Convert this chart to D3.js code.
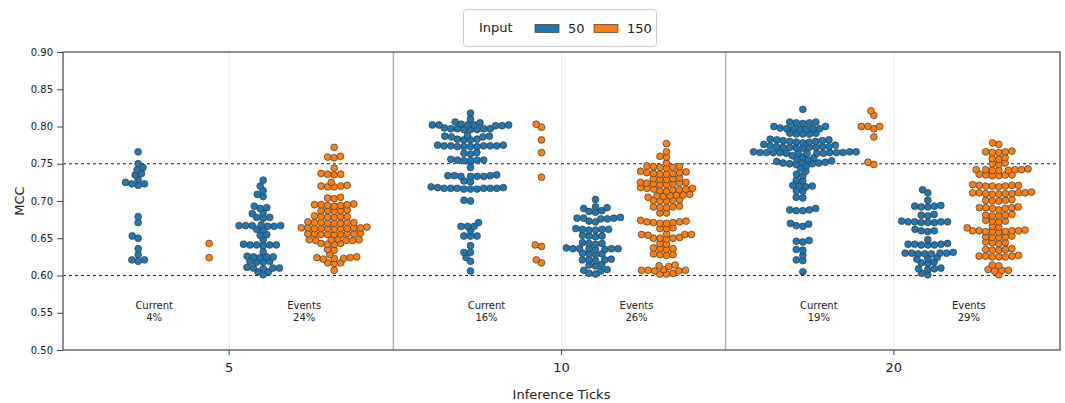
<!DOCTYPE html>
<html>
<head>
<meta charset="utf-8">
<script src="https://cdn.jsdelivr.net/npm/d3@7"></script>
<style>
  body { margin: 0; background: #fff; }
  text { font-family: "DejaVu Sans", Verdana, sans-serif; fill: #222; }
</style>
</head>
<body>
<svg id="chart" width="1065" height="403"></svg>
<script>
// ---- data ----
var groups = ["5", "10", "20"];
var kinds = ["Current", "Events"];
var inputs = ["50", "150"];
var colors = ["#1f77b4", "#ff7f0e"];
var yTicks = [0.50, 0.55, 0.60, 0.65, 0.70, 0.75, 0.80, 0.85, 0.90];
var refLines = [0.75, 0.60];
var pctCurrent = ["4%", "16%", "19%"];
var pctEvents = ["24%", "26%", "29%"];

var cur5_50 = [0.766,0.750,0.745,0.742,0.737,0.735,0.729,0.725,0.723,0.723,0.721,0.679,0.671,0.653,0.650,0.636,0.628,0.621,0.621,0.619];
var cur5_150 = [0.643,0.624];
var ev5_50 = [0.728,0.720,0.714,0.709,0.706,0.693,0.691,0.690,0.684,0.683,0.678,0.678,0.677,0.668,0.667,0.667,0.667,0.667,0.666,0.666,
  0.662,0.661,0.655,0.654,0.648,0.642,0.641,0.641,0.641,0.641,0.640,0.632,0.626,0.625,0.625,0.625,0.624,0.619,0.619,0.618,0.618,
  0.611,0.610,0.610,0.610,0.609,0.605,0.605,0.601];
var ev5_150 = [0.772,0.760,0.759,0.758,0.744,0.737,0.736,0.736,0.735,0.725,0.721,0.720,0.720,0.719,0.719,0.705,0.704,0.703,
  0.696,0.695,0.695,0.695,0.694,0.694,0.693,0.688,0.687,0.687,0.687,0.686,0.680,0.679,0.679,0.679,0.678,0.678,
  0.672,0.671,0.671,0.671,0.671,0.670,0.670,0.670,0.665,0.664,0.664,0.664,0.664,0.663,0.663,0.663,0.663,0.663,0.662,
  0.657,0.656,0.656,0.656,0.656,0.655,0.655,0.655,0.655,0.649,0.648,0.648,0.648,0.647,0.647,0.647,0.643,0.643,0.642,0.642,
  0.635,0.634,0.628,0.625,0.624,0.624,0.623,0.623,0.622,0.617,0.617,0.616,0.607];
var cur10_50 = [0.818,0.810,0.806,0.805,0.803,0.802,0.802,0.802,0.802,0.802,0.801,0.801,0.798,0.797,0.797,0.797,0.797,0.796,0.796,0.796,
  0.788,0.787,0.787,0.786,0.786,0.783,0.783,0.782,0.782,0.775,0.775,0.774,0.774,0.774,0.774,0.774,0.773,0.773,0.773,0.773,
  0.765,0.764,0.763,0.756,0.755,0.755,0.755,0.754,0.754,0.745,0.735,0.734,0.734,0.734,0.733,0.733,0.733,0.733,0.727,0.726,
  0.719,0.718,0.718,0.717,0.717,0.717,0.717,0.717,0.717,0.716,0.716,0.716,0.701,0.700,
  0.671,0.666,0.666,0.666,0.660,0.653,0.653,0.653,0.640,0.631,0.631,0.624,0.619,0.606];
var cur10_150 = [0.803,0.799,0.782,0.765,0.732,0.641,0.639,0.621,0.617];
var ev10_50 = [0.702,0.692,0.691,0.690,0.687,0.686,0.685,0.678,0.677,0.677,0.677,0.676,0.676,0.673,0.672,
  0.663,0.662,0.662,0.662,0.661,0.661,0.654,0.653,0.653,0.652,0.644,0.643,0.643,0.642,
  0.637,0.636,0.636,0.636,0.636,0.636,0.635,0.635,0.630,0.629,0.629,0.628,0.622,0.621,0.621,0.621,0.620,
  0.615,0.614,0.613,0.608,0.607,0.606,0.603,0.602];
var ev10_150 = [0.777,0.766,0.760,0.759,0.751,0.747,0.746,0.746,0.745,0.745,0.744,
  0.740,0.739,0.738,0.738,0.737,0.737,0.736,0.736,0.731,0.730,0.730,0.729,0.729,
  0.725,0.725,0.724,0.724,0.723,0.723,0.722,0.722,0.718,0.717,0.717,0.716,0.716,0.715,0.715,0.714,0.713,
  0.709,0.708,0.708,0.707,0.707,0.706,0.705,0.702,0.701,0.701,0.700,0.700,0.693,0.692,0.692,0.691,0.691,0.684,0.684,
  0.674,0.673,0.672,0.672,0.671,0.671,0.670,0.670,0.664,0.663,0.663,0.656,0.655,0.655,0.655,0.654,
  0.651,0.650,0.650,0.650,0.649,0.643,0.642,0.637,0.636,0.636,0.635,0.629,0.628,0.628,0.627,
  0.614,0.613,0.612,0.608,0.607,0.607,0.607,0.606,0.606,0.603,0.602,0.602];
var cur20_50 = [0.823,0.806,0.806,0.805,0.805,0.804,0.800,0.800,0.798,0.797,0.797,0.797,0.797,0.796,0.796,
  0.791,0.791,0.790,0.790,0.790,0.783,0.782,0.782,0.781,0.781,0.780,0.780,0.779,0.779,0.778,0.776,0.775,
  0.774,0.773,0.773,0.773,0.772,0.772,0.772,0.772,0.771,0.771,
  0.766,0.766,0.766,0.765,0.765,0.765,0.765,0.765,0.765,0.765,0.764,0.764,0.764,0.764,0.764,
  0.761,0.759,0.758,0.756,0.755,0.754,0.753,0.752,0.752,0.751,0.751,0.750,0.750,0.749,
  0.747,0.744,0.740,0.736,0.734,0.728,0.727,0.721,0.720,0.720,0.719,0.714,0.713,0.705,0.704,
  0.690,0.688,0.688,0.687,0.687,0.670,0.669,0.667,0.666,0.647,0.646,0.645,0.635,0.634,0.627,0.621,0.620,0.605];
var cur20_150 = [0.821,0.815,0.800,0.800,0.800,0.797,0.786,0.752,0.749];
var ev20_50 = [0.715,0.711,0.701,0.694,0.693,0.693,0.692,0.692,0.682,0.681,0.680,
  0.673,0.672,0.672,0.672,0.672,0.671,0.671,0.671,0.662,0.660,0.660,0.659,0.648,
  0.643,0.642,0.642,0.642,0.641,0.641,0.641,0.631,0.630,0.630,0.630,0.630,0.629,0.629,0.629,
  0.624,0.623,0.622,0.618,0.617,0.616,0.610,0.609,0.609,0.608,0.603,0.601];
var ev20_150 = [0.778,0.776,0.767,0.766,0.766,0.765,0.765,0.758,0.757,0.756,0.751,0.750,0.749,
  0.743,0.742,0.742,0.742,0.742,0.741,0.741,0.741,0.736,0.735,0.735,0.735,0.734,0.734,
  0.722,0.721,0.721,0.721,0.720,0.720,0.720,0.719,0.712,0.711,0.711,0.711,0.711,0.710,0.710,0.710,0.709,0.709,
  0.702,0.701,0.701,0.700,0.700,0.692,0.691,0.691,0.691,0.690,0.690,0.688,0.682,0.681,0.681,0.680,0.680,
  0.674,0.673,0.673,0.672,0.666,0.665,0.664,0.661,0.660,0.660,0.660,0.660,0.659,0.659,0.659,0.658,
  0.653,0.652,0.652,0.651,0.651,0.645,0.644,0.644,0.643,0.636,0.635,0.635,0.634,0.634,
  0.627,0.626,0.626,0.626,0.625,0.625,0.625,0.614,0.613,0.608,0.607,0.607,0.606,0.601];

// group -> kind -> input
var CLUSTERS = [
  {g: "5",  k: "Current", s: "50", v: cur5_50},  {g: "5",  k: "Current", s: "150", v: cur5_150},
  {g: "5",  k: "Events",  s: "50", v: ev5_50},   {g: "5",  k: "Events",  s: "150", v: ev5_150},
  {g: "10", k: "Current", s: "50", v: cur10_50}, {g: "10", k: "Current", s: "150", v: cur10_150},
  {g: "10", k: "Events",  s: "50", v: ev10_50},  {g: "10", k: "Events",  s: "150", v: ev10_150},
  {g: "20", k: "Current", s: "50", v: cur20_50}, {g: "20", k: "Current", s: "150", v: cur20_150},
  {g: "20", k: "Events",  s: "50", v: ev20_50},  {g: "20", k: "Events",  s: "150", v: ev20_150}
];

var PLOT_L = 63, PLOT_R = 1060, PLOT_T = 52, PLOT_B = 350;
var R = 3.4, GAP_X = 6.6, GAP_Y = 5.0;   // swarm spacing: row step and vertical tolerance

var SVG = d3.select("svg#chart");

var x = d3.scaleBand().domain(groups).range([PLOT_L, PLOT_R]).padding(0);
var kindX = d3.scalePoint().domain(kinds).range([-55, 70]);
var labelX = d3.scalePoint().domain(kinds).range([-75, 75]);
var inputX = d3.scalePoint().domain(inputs).range([-36, 35]);
var color = d3.scaleOrdinal().domain(inputs).range(colors);
var y = d3.scaleLinear().domain([0.5, 0.9]).range([PLOT_B, PLOT_T]);

function center(g) { return x(g) + x.bandwidth() / 2; }

// light gridlines at group centers
SVG.append("g").selectAll("line").data(groups).join("line")
   .attr("x1", center).attr("x2", center)
   .attr("y1", PLOT_T).attr("y2", PLOT_B)
   .attr("stroke", "#e8e8e8").attr("stroke-width", 1);

// group separators
SVG.append("g").selectAll("line").data(groups.slice(1)).join("line")
   .attr("x1", function(d){ return x(d) - 2; }).attr("x2", function(d){ return x(d) - 2; })
   .attr("y1", PLOT_T).attr("y2", PLOT_B)
   .attr("stroke", "#b4b4b4").attr("stroke-width", 1.5);

// reference lines
SVG.append("g").selectAll("line").data(refLines).join("line")
   .attr("x1", PLOT_L).attr("x2", PLOT_R)
   .attr("y1", y).attr("y2", y)
   .attr("stroke", "#222").attr("stroke-width", 1)
   .attr("stroke-dasharray", "3,3");

// category labels
var labs = [];
groups.forEach(function(g, i) {
  labs.push({g: g, k: "Current", p: pctCurrent[i]});
  labs.push({g: g, k: "Events", p: pctEvents[i]});
});
var lab = SVG.append("g").selectAll("text").data(labs).join("text")
   .attr("text-anchor", "middle")
   .attr("font-size", "10px")
   .attr("x", function(d){ return center(d.g) + labelX(d.k); })
   .attr("y", 309);
lab.append("tspan").text(function(d){ return d.k; });
lab.append("tspan")
   .attr("x", function(d){ return center(d.g) + labelX(d.k); })
   .attr("dy", "1.2em")
   .text(function(d){ return d.p; });

// beeswarm placement, closest free spot to the centre line
function clash(q, px, py) {
  var a = (q.x - px) / GAP_X, b = (q.y - py) / GAP_Y;
  return a * a + b * b < 0.999;
}
function swarm(values, cx) {
  var pts = values.map(function(v){ return {v: v, y: y(v)}; })
                  .sort(function(a, b){ return b.y - a.y; });
  var placed = [];
  pts.forEach(function(p) {
    var cands = [cx];
    placed.forEach(function(q) {
      var b = (q.y - p.y) / GAP_Y;
      if (Math.abs(b) < 1) {
        var dx = GAP_X * Math.sqrt(1 - b * b);
        cands.push(q.x - dx, q.x + dx);
      }
    });
    cands.sort(function(a, b){ return Math.abs(a - cx) - Math.abs(b - cx); });
    for (var i = 0; i < cands.length; i++) {
      var ok = placed.every(function(q){ return !clash(q, cands[i], p.y); });
      if (ok) { p.x = cands[i]; break; }
    }
    placed.push(p);
  });
  return placed;
}

var DOTS = [];
CLUSTERS.forEach(function(c) {
  var cx = center(c.g) + kindX(c.k) + inputX(c.s);
  swarm(c.v, cx).forEach(function(p){ p.s = c.s; DOTS.push(p); });
});

SVG.append("g").selectAll("circle").data(DOTS).join("circle")
   .attr("cx", function(d){ return d.x; })
   .attr("cy", function(d){ return d.y; })
   .attr("r", R)
   .attr("fill", function(d){ return color(d.s); })
   .attr("stroke", "#3a3a3a").attr("stroke-width", 0.7);

// frame
SVG.append("rect")
   .attr("x", PLOT_L).attr("y", PLOT_T)
   .attr("width", PLOT_R - PLOT_L).attr("height", PLOT_B - PLOT_T)
   .attr("fill", "none").attr("stroke", "#6a6a6a").attr("stroke-width", 1.5);

// axes
var yAxis = SVG.append("g").attr("transform", "translate(" + PLOT_L + ",0)")
   .call(d3.axisLeft(y).tickValues(yTicks).tickFormat(d3.format(".2f")).tickSize(6).tickPadding(4));
yAxis.select(".domain").remove();
yAxis.selectAll("text").attr("font-size", "10px").attr("fill", "#222")
     .style("font-family", "DejaVu Sans, Verdana, sans-serif");
yAxis.selectAll("line").attr("stroke", "#444");

var xAxis = SVG.append("g").attr("transform", "translate(0," + PLOT_B + ")")
   .call(d3.axisBottom(x).tickSize(5).tickPadding(8));
xAxis.select(".domain").remove();
xAxis.selectAll("text").attr("font-size", "13px").attr("fill", "#222")
     .style("font-family", "DejaVu Sans, Verdana, sans-serif");
xAxis.selectAll("line").attr("stroke", "#444");

SVG.append("text").attr("x", (PLOT_L + PLOT_R) / 2).attr("y", 399)
   .attr("text-anchor", "middle").attr("font-size", "13px")
   .text("Inference Ticks");
SVG.append("text").attr("transform", "translate(24," + ((PLOT_T + PLOT_B) / 2) + ") rotate(-90)")
   .attr("text-anchor", "middle").attr("font-size", "13px")
   .text("MCC");

// legend
var LEG = SVG.append("g");
LEG.append("rect").attr("x", 463.5).attr("y", 9.5).attr("width", 193).attr("height", 37)
   .attr("rx", 3).attr("fill", "#fff").attr("stroke", "#cfcfcf");
LEG.append("text").attr("x", 479).attr("y", 32).attr("font-size", "13px").text("Input");
var legX = d3.scalePoint().domain(inputs).range([535, 594]);
var item = LEG.selectAll("g.item").data(inputs).join("g").attr("class", "item")
   .attr("transform", function(d){ return "translate(" + legX(d) + ",0)"; });
item.append("rect").attr("x", 0).attr("y", 24.5).attr("width", 24).attr("height", 8)
    .attr("fill", function(d){ return color(d); }).attr("stroke", "#3a3a3a").attr("stroke-width", 0.7);
item.append("text").attr("x", 33).attr("y", 33).attr("font-size", "13px")
    .text(function(d){ return d; });
</script>
</body>
</html>
